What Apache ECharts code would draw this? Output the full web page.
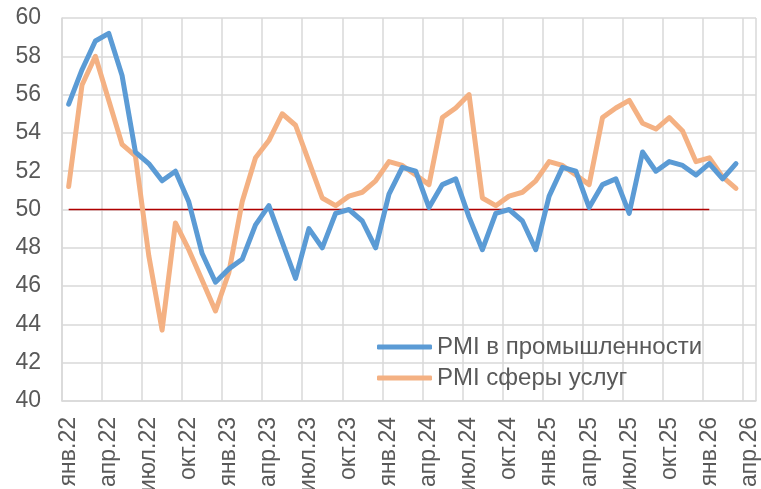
<!DOCTYPE html>
<html>
<head>
<meta charset="utf-8">
<script src="https://cdn.jsdelivr.net/npm/echarts@6/dist/echarts.min.js"></script>
<style>
  html, body { margin: 0; padding: 0; background: #fff; }
  #chart { width: 761px; height: 489px; }
</style>
</head>
<body>
<div id="chart"></div>
<script>
// подписи месяцев и годы
const monthNames = ['янв', 'фев', 'мар', 'апр', 'май', 'июн', 'июл', 'авг', 'сен', 'окт', 'ноя', 'дек'];
const years = ['22', '23', '24', '25', '26'];
const lastMonthCount = 4; // ось в 2026 году до апреля

const months = [];
years.forEach((y, yi) => {
    const n = yi === years.length - 1 ? lastMonthCount : 12;
    for (let m = 0; m < n; m++) months.push(monthNames[m] + '.' + y);
});

// PMI в промышленности (янв.22 - мар.26)
const pmiIndustry = [55.5, 57.3, 58.8, 59.2, 57.0, 53.0, 52.4, 51.5, 52.0, 50.4,
    47.7, 46.2, 46.9, 47.4, 49.2, 50.2, 48.3, 46.4, 49.0, 48.0,
    49.8, 50.0, 49.4, 48.0, 50.8, 52.2, 52.0, 50.1, 51.3, 51.6,
    49.6, 47.9, 49.8, 50.0, 49.4, 47.9, 50.7, 52.2, 52.0, 50.1,
    51.3, 51.6, 49.8, 53.0, 52.0, 52.5, 52.3, 51.8, 52.4, 51.6, 52.4];

// PMI сферы услуг (янв.22 - мар.26)
const pmiServices = [51.2, 56.5, 58.0, 55.7, 53.4, 52.8, 47.6, 43.7, 49.3, 47.9,
    46.3, 44.7, 46.7, 50.4, 52.7, 53.6, 55.0, 54.4, 52.5, 50.6,
    50.2, 50.7, 50.9, 51.5, 52.5, 52.3, 51.8, 51.3, 54.8, 55.3,
    56.0, 50.6, 50.2, 50.7, 50.9, 51.5, 52.5, 52.3, 51.8, 51.3,
    54.8, 55.3, 55.7, 54.5, 54.2, 54.8, 54.1, 52.5, 52.7, 51.7, 51.1];

// линия 50 (янв.22 - янв.26)
const level50 = [50, 50, 50, 50, 50, 50, 50, 50, 50, 50,
    50, 50, 50, 50, 50, 50, 50, 50, 50, 50,
    50, 50, 50, 50, 50, 50, 50, 50, 50, 50,
    50, 50, 50, 50, 50, 50, 50, 50, 50, 50,
    50, 50, 50, 50, 50, 50, 50, 50, 50];

const font = '"Liberation Sans", Arial, sans-serif';
const textColor = '#595959';
const gridColor = '#d9d9d9';

const chart = echarts.init(document.getElementById('chart'));

chart.setOption({
    animation: false,
    backgroundColor: '#fff',
    grid: { left: 62, right: 5, top: 18, bottom: 88, containLabel: false, outerBoundsMode: 'none' },
    legend: {
        data: ['PMI в промышленности', 'PMI сферы услуг'],
        orient: 'vertical',
        left: 372,
        top: 330,
        itemWidth: 55,
        itemHeight: 5,
        itemGap: 7,
        icon: 'roundRect',
        textStyle: { fontFamily: font, fontSize: 24, color: textColor, lineHeight: 24 }
    },
    xAxis: {
        type: 'category',
        data: months,
        boundaryGap: true,
        axisLine: { lineStyle: { color: gridColor, width: 1.5 } },
        axisTick: { interval: 2, length: 6, lineStyle: { color: gridColor, width: 1.5 } },
        splitLine: { show: true, interval: 2, lineStyle: { color: gridColor, width: 1.5 } },
        axisLabel: {
            interval: 2,
            rotate: 90,
            margin: 16,
            fontFamily: font,
            fontSize: 23,
            color: textColor
        }
    },
    yAxis: {
        type: 'value',
        min: 40,
        max: 60,
        interval: 2,
        axisLine: { show: true, lineStyle: { color: gridColor, width: 1.5 } },
        axisTick: { show: false },
        splitLine: { lineStyle: { color: gridColor, width: 1.5 } },
        axisLabel: { margin: 21, fontFamily: font, fontSize: 23, color: textColor }
    },
    series: [
        {
            name: 'level',
            type: 'line',
            data: level50,
            symbol: 'none',
            silent: true,
            lineStyle: { color: '#b00000', width: 1.5 },
            z: 1
        },
        {
            name: 'PMI в промышленности',
            type: 'line',
            data: pmiIndustry,
            symbol: 'none',
            itemStyle: { color: '#5b9bd5' },
            lineStyle: { color: '#5b9bd5', width: 5, cap: 'round', join: 'round' },
            z: 3
        },
        {
            name: 'PMI сферы услуг',
            type: 'line',
            data: pmiServices,
            symbol: 'none',
            itemStyle: { color: '#f4b183' },
            lineStyle: { color: '#f4b183', width: 5, cap: 'round', join: 'round' },
            z: 2
        }
    ]
});
</script>
</body>
</html>
